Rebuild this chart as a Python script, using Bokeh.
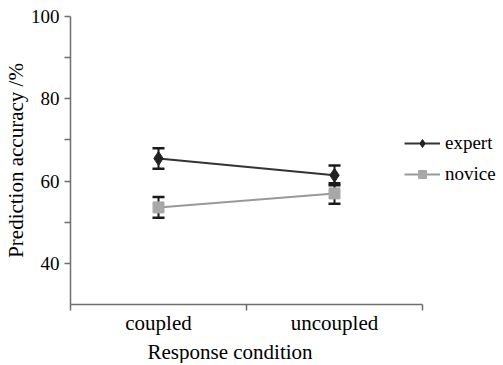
from bokeh.plotting import figure
from bokeh.models import (ColumnDataSource, Whisker, Legend, LegendItem, FixedTicker,
                          Range1d, LinearAxis, Title)
from bokeh.embed import file_html
from bokeh.resources import INLINE

categories = ["coupled", "uncoupled"]
expert = [65.5, 61.4]
expert_err = [2.5, 2.4]
novice = [53.6, 57.0]
novice_err = [2.5, 2.5]
y_ticks = [40, 60, 80, 100]
y_minor = [50, 70, 90]

xpos = [i + 0.5 for i in range(len(categories))]

FONT = "serif"

# frame is 430px wide; the categorical axis (0..2) spans 352px of it
p = figure(frame_width=430, frame_height=288, output_backend="svg", toolbar_location=None,
           x_range=Range1d(0, 2 * 430 / 352), y_range=Range1d(30, 100),
           min_border_left=69, min_border_top=16, min_border_right=0, min_border_bottom=44,
           x_axis_type=None, y_axis_type=None)
p.outline_line_color = None
p.grid.visible = False
p.background_fill_color = "white"
p.border_fill_color = "white"

xaxis = LinearAxis(ticker=FixedTicker(ticks=xpos, minor_ticks=[0, 1, 2]),
                   major_label_overrides={x: c for x, c in zip(xpos, categories)},
                   bounds=(0, 2))
yaxis = LinearAxis(ticker=FixedTicker(ticks=y_ticks, minor_ticks=y_minor))
for ax in (xaxis, yaxis):
    ax.axis_line_color = "#6e6e6e"
    ax.axis_line_width = 1.5
    ax.major_label_text_font = FONT
    ax.major_label_text_color = "black"
    ax.axis_label_text_font = FONT
    ax.axis_label_text_font_style = "normal"
    ax.axis_label_text_color = "black"
    ax.major_tick_line_color = "#6e6e6e"
    ax.minor_tick_line_color = "#6e6e6e"
    ax.major_tick_line_width = 1.5
    ax.minor_tick_line_width = 1.5
    ax.major_tick_in = 0
    ax.minor_tick_in = 0
xaxis.major_label_text_font_size = "21px"
xaxis.major_tick_out = 0
xaxis.minor_tick_out = 6
xaxis.major_label_standoff = 0
yaxis.major_label_text_font_size = "19px"
yaxis.axis_label_text_font_size = "21px"
yaxis.major_tick_out = 6
yaxis.minor_tick_out = 6
yaxis.major_label_standoff = 5
yaxis.axis_label = "Prediction accuracy /%"
yaxis.axis_label_standoff = 0
p.add_layout(xaxis, "below")
p.add_layout(yaxis, "left")

# x-axis title centred under the categorical part of the axis, not the wider frame
xtitle = Title(text="Response condition", align="left", offset=77, standoff=0,
               text_font=FONT, text_font_size="21px", text_font_style="normal",
               text_color="black")
p.add_layout(xtitle, "below")

src = ColumnDataSource(dict(
    x=xpos, expert=expert, novice=novice,
    e_lo=[v - e for v, e in zip(expert, expert_err)],
    e_hi=[v + e for v, e in zip(expert, expert_err)],
    n_lo=[v - e for v, e in zip(novice, novice_err)],
    n_hi=[v + e for v, e in zip(novice, novice_err)],
))

nl = p.line("x", "novice", source=src, line_color="#999999", line_width=2)
el = p.line("x", "expert", source=src, line_color="#333333", line_width=2)
for lo, hi in (("e_lo", "e_hi"), ("n_lo", "n_hi")):
    w = Whisker(base="x", lower=lo, upper=hi, source=src, line_color="#1a1a1a", line_width=2)
    for h in (w.upper_head, w.lower_head):
        h.size = 12
        h.line_width = 2.5
        h.line_color = "#1a1a1a"
    p.add_layout(w)
ns = p.scatter("x", "novice", source=src, marker="square", size=11,
               fill_color="#a8a8a8", line_color="#a8a8a8")
es = p.scatter("x", "expert", source=src, marker="diamond", size=14,
               fill_color="#222222", line_color="#222222")

legend = Legend(items=[LegendItem(label="expert", renderers=[el, es]),
                       LegendItem(label="novice", renderers=[nl, ns])],
                location=(334, 119))
legend.label_text_font = FONT
legend.label_text_font_size = "19px"
legend.label_text_color = "black"
legend.border_line_color = None
legend.background_fill_alpha = 0
legend.glyph_width = 36
legend.glyph_height = 20
legend.spacing = 9
legend.padding = 2
legend.margin = 0
legend.label_standoff = 5
p.add_layout(legend, "center")

open("out.html", "w").write(file_html(p, INLINE))
